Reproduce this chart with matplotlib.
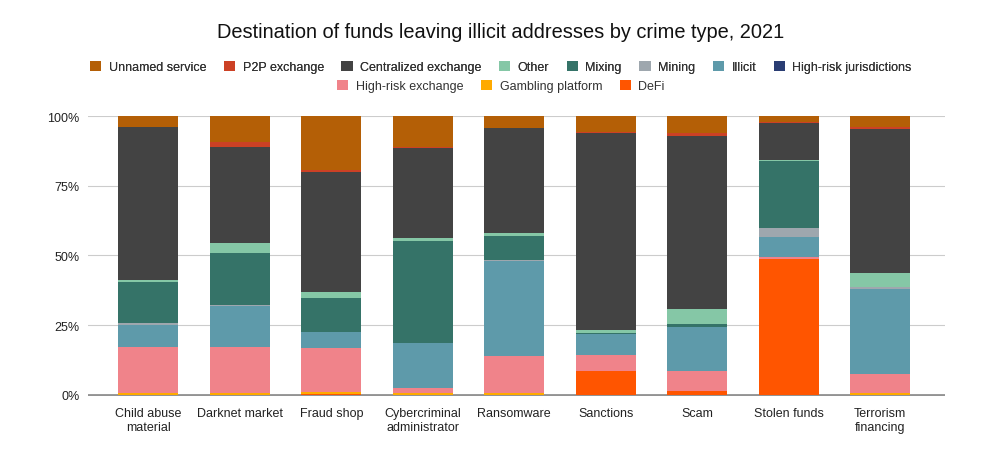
import matplotlib.pyplot as plt
from matplotlib.patches import Patch
import numpy as np

plt.rcParams['font.family'] = ['Liberation Sans', 'DejaVu Sans']

# crime types along the x axis
categories = ["Child abuse\nmaterial", "Darknet market", "Fraud shop",
              "Cybercriminal\nadministrator", "Ransomware", "Sanctions",
              "Scam", "Stolen funds", "Terrorism\nfinancing"]

# share of funds (%) per destination, bottom of the stack first
defi         = [0.0, 0.0, 0.4, 0.0, 0.0, 8.6, 1.4, 48.7, 0.0]
gambling     = [0.5, 0.5, 0.6, 0.5, 0.5, 0.0, 0.0, 0.0, 0.5]
hr_exchange  = [16.8, 16.5, 15.8, 1.8, 13.3, 5.7, 7.2, 0.7, 7.0]
hr_juris     = [0.0, 0.3, 0.0, 0.0, 0.0, 0.0, 0.0, 0.0, 0.0]
illicit      = [7.9, 14.7, 5.8, 16.4, 34.3, 7.6, 15.9, 7.1, 30.5]
mining       = [0.5, 0.3, 0.0, 0.0, 0.2, 0.0, 0.0, 3.4, 0.7]
mixing       = [14.8, 18.5, 12.2, 36.4, 8.6, 0.4, 0.9, 24.1, 0.0]
other        = [0.6, 3.5, 2.1, 1.1, 1.2, 1.0, 5.3, 0.3, 5.1]
centralized  = [55.0, 34.5, 42.9, 32.3, 37.7, 70.7, 62.3, 13.3, 51.6]
p2p          = [0.0, 2.0, 1.0, 0.3, 0.0, 0.4, 0.9, 0.3, 0.6]
unnamed      = [3.9, 9.2, 19.2, 11.2, 4.2, 5.6, 6.1, 2.1, 4.0]

stack = [
    ("DeFi", defi, "#FF5500"),
    ("Gambling platform", gambling, "#FFAA00"),
    ("High-risk exchange", hr_exchange, "#F0838A"),
    ("High-risk jurisdictions", hr_juris, "#2A3D73"),
    ("Illicit", illicit, "#5E9AAA"),
    ("Mining", mining, "#9EA7AE"),
    ("Mixing", mixing, "#357368"),
    ("Other", other, "#85C7A6"),
    ("Centralized exchange", centralized, "#434343"),
    ("P2P exchange", p2p, "#CC4125"),
    ("Unnamed service", unnamed, "#B45F06"),
]

fig = plt.figure(figsize=(10.02, 4.6), dpi=100)
ax = fig.add_axes([88/1002, 1-397/460, 857/1002, 280/460])

x = np.arange(len(categories))
bottom = np.zeros(len(categories))
for name, vals, col in stack:
    v = np.array(vals) / 100.0
    ax.bar(x, v, 0.656, bottom=bottom, color=col, edgecolor='none', zorder=3)
    bottom += v

ax.set_xlim(-0.66, 8.71)
ax.set_ylim(-0.004, 1)
ax.set_yticks([0, 0.25, 0.5, 0.75, 1.0])
ax.set_yticklabels(["0%", "25%", "50%", "75%", "100%"])
ax.set_xticks(x)
ax.set_xticklabels(categories)
ax.tick_params(axis='both', length=0, labelsize=9, colors='#222222')
ax.tick_params(axis='x', pad=8)
ax.tick_params(axis='y', pad=6)
ax.grid(axis='y', color='#CCCCCC', linewidth=0.8, zorder=0)
for s in ax.spines.values():
    s.set_visible(False)
ax.axhline(-0.002, color='#888888', linewidth=1.2, zorder=2)

fig.text(0.5, 1-33/460, "Destination of funds leaving illicit addresses by crime type, 2021",
         ha='center', va='center', fontsize=14.4, color='#111111')

# legend: two centred rows
order = ["Unnamed service", "P2P exchange", "Centralized exchange", "Other", "Mixing",
         "Mining", "Illicit", "High-risk jurisdictions", "High-risk exchange",
         "Gambling platform", "DeFi"]
colors = {n: c for n, _, c in stack}
handles = [Patch(facecolor=colors[n], label=n) for n in order]

leg1 = fig.legend(handles=handles[:8], loc='center', bbox_to_anchor=(0.5, 1-68/460),
                  ncol=8, frameon=False, fontsize=9, handlelength=0.9, handleheight=0.9,
                  handletextpad=0.6, columnspacing=1.4, labelcolor='#333333')
fig.add_artist(leg1)
fig.legend(handles=handles[8:], loc='center', bbox_to_anchor=(0.5, 1-87/460),
           ncol=3, frameon=False, fontsize=9, handlelength=0.9, handleheight=0.9,
           handletextpad=0.6, columnspacing=1.4, labelcolor='#333333')

fig.savefig("out.png", dpi=100)
